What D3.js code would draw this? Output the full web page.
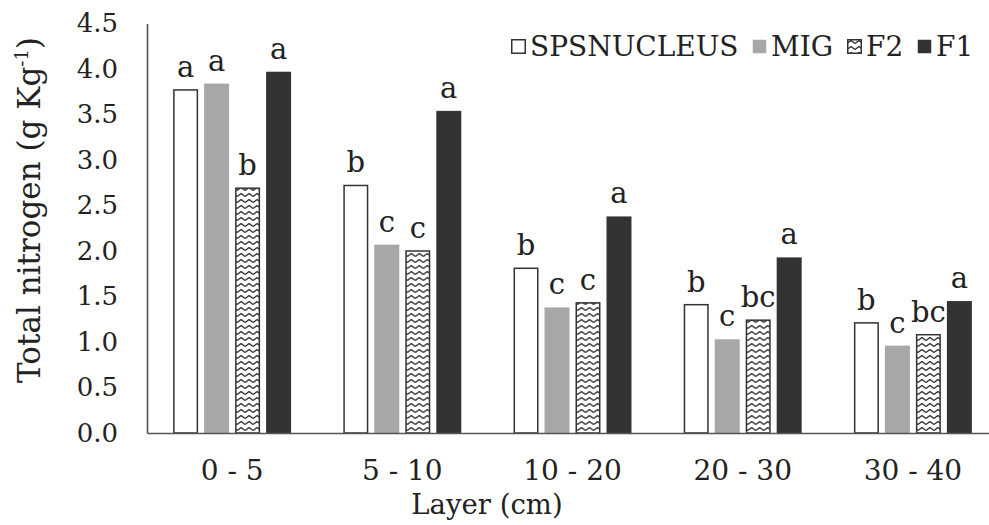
<!DOCTYPE html>
<html>
<head>
<meta charset="utf-8">
<script src="https://cdn.jsdelivr.net/npm/d3@7/dist/d3.min.js"></script>
<style>
  html, body { margin: 0; padding: 0; background: #fff; }
  svg { display: block; }
  text { font-family: "DejaVu Serif", serif; fill: #222; }
</style>
</head>
<body>
<svg id="chart" width="989" height="525"></svg>
<script>
const categories = ["0 - 5", "5 - 10", "10 - 20", "20 - 30", "30 - 40"];
const seriesNames = ["SPSNUCLEUS", "MIG", "F2", "F1"];
const spsValues = [3.77, 2.72, 1.81, 1.41, 1.21];
const migValues = [3.84, 2.07, 1.38, 1.03, 0.96];
const f2Values  = [2.69, 2.00, 1.43, 1.24, 1.08];
const f1Values  = [3.97, 3.54, 2.38, 1.93, 1.45];
const spsLetters = ["a", "b", "b", "b", "b"];
const migLetters = ["a", "c", "c", "c", "c"];
const f2Letters  = ["b", "c", "c", "bc", "bc"];
const f1Letters  = ["a", "a", "a", "a", "a"];
const yTicks = [0, 0.5, 1.0, 1.5, 2.0, 2.5, 3.0, 3.5, 4.0, 4.5];

const valuesBySeries = [spsValues, migValues, f2Values, f1Values];
const lettersBySeries = [spsLetters, migLetters, f2Letters, f1Letters];

const svg = d3.select("#chart");
const defs = svg.append("defs");
const pat = defs.append("pattern")
  .attr("id", "zig").attr("patternUnits", "userSpaceOnUse")
  .attr("width", 8).attr("height", 6);
pat.append("rect").attr("width", 8).attr("height", 6).attr("fill", "#fff");
pat.append("path").attr("d", "M0,4.5 L4,1.5 L8,4.5")
  .attr("fill", "none").attr("stroke", "#222").attr("stroke-width", 1.3);

const fills = ["#ffffff", "#a7a7aa", "url(#zig)", "#333333"];
const strokes = ["#333", "none", "#333", "none"];

const x0 = d3.scaleBand().domain(categories).range([147, 998])
  .paddingInner(0.307).paddingOuter(0.1535);
const x1 = d3.scaleBand().domain(seriesNames).range([0, x0.bandwidth()])
  .paddingInner(0.194).paddingOuter(0);
const y = d3.scaleLinear().domain([0, 4.5]).range([433, 23.5]);

const rows = (c, ci) => seriesNames.map((s, si) => ({ s, si, v: valuesBySeries[si][ci], l: lettersBySeries[si][ci] }));

const groups = svg.append("g").selectAll("g").data(categories).join("g")
  .attr("transform", d => `translate(${x0(d)},0)`);

groups.selectAll("rect.bar").data(rows)
  .join("rect").attr("class", "bar")
  .attr("x", d => x1(d.s) + (strokes[d.si] !== "none" ? 0.75 : 0))
  .attr("width", d => x1.bandwidth() - (strokes[d.si] !== "none" ? 1.5 : 0))
  .attr("y", d => y(d.v))
  .attr("height", d => y(0) - y(d.v))
  .attr("fill", d => fills[d.si])
  .attr("stroke", d => strokes[d.si])
  .attr("stroke-width", 1.5);

groups.selectAll("text.sig").data(rows)
  .join("text").attr("class", "sig")
  .attr("x", d => x1(d.s) + x1.bandwidth() / 2)
  .attr("y", d => y(d.v) - 13)
  .attr("text-anchor", "middle")
  .attr("font-size", 29)
  .text(d => d.l);

const yAxis = d3.axisLeft(y).tickValues(yTicks).tickSize(0).tickPadding(29)
  .tickFormat(d3.format(".1f"));
const gy = svg.append("g").attr("transform", "translate(147,0)").call(yAxis);
gy.select(".domain").attr("stroke", "#555").attr("stroke-width", 1.6);
gy.selectAll(".tick text").attr("font-size", 26).attr("font-family", "DejaVu Serif").attr("fill", "#222");

const xAxis = d3.axisBottom(x0).tickSize(0).tickPadding(27);
const gx = svg.append("g").attr("transform", "translate(0,433)").call(xAxis);
gx.select(".domain").attr("stroke", "#555").attr("stroke-width", 1.6);
gx.selectAll(".tick text").attr("font-size", 28).attr("font-family", "DejaVu Serif").attr("fill", "#222");

const yt = svg.append("text")
  .attr("transform", "translate(40,210) rotate(-90)")
  .attr("text-anchor", "middle").attr("font-size", 31);
yt.append("tspan").text("Total nitrogen (g Kg");
yt.append("tspan").attr("font-size", 18).attr("dy", -12).text("-1");
yt.append("tspan").attr("dy", 12).text(")");

svg.append("text").attr("x", 487).attr("y", 514)
  .attr("text-anchor", "middle").attr("font-size", 27.5).text("Layer (cm)");

const legendX = [511, 752, 847, 917];
const lg = svg.append("g").selectAll("g").data(seriesNames).join("g")
  .attr("transform", (d, i) => `translate(${legendX[i]},39)`);
lg.append("rect").attr("x", 0.75).attr("y", 0.75).attr("width", 13.5).attr("height", 13.5)
  .attr("fill", (d, i) => fills[i])
  .attr("stroke", (d, i) => strokes[i] === "none" ? "none" : "#333")
  .attr("stroke-width", 1.5);
lg.append("text").attr("x", 19).attr("y", 17).attr("font-size", 28).text(d => d);
</script>
</body>
</html>
